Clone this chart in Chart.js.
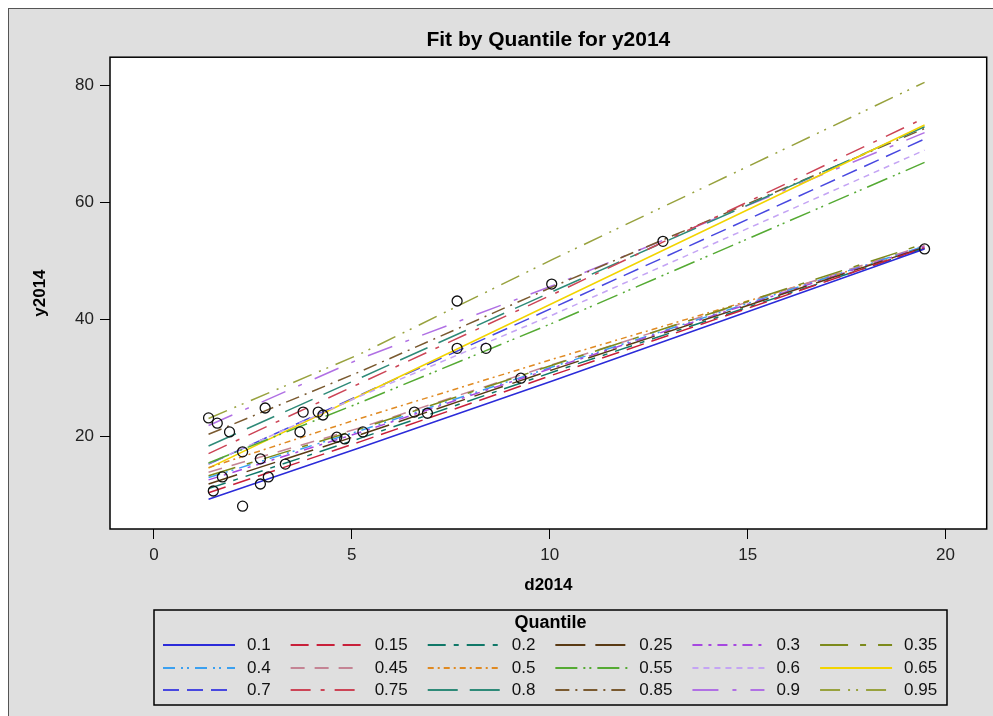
<!DOCTYPE html>
<html>
<head>
<meta charset="utf-8">
<title>Fit by Quantile for y2014</title>
<script src="https://cdn.jsdelivr.net/npm/chart.js@4.4.1/dist/chart.umd.min.js"></script>
<style>
    html, body { margin: 0; padding: 0; background: #fff; }
    #frame {
        position: absolute; left: 8px; top: 8px; width: 985px; height: 708px;
        background: #dfdfdf; border-top: 1px solid #555; border-left: 1px solid #555;
    }
    canvas { display: block; }
</style>
</head>
<body>
<div id="frame"><canvas id="fitChart" width="984" height="707"></canvas></div>
<script>
// Observations
const obsD2014 = [1.38, 1.60, 1.91, 2.24, 2.24, 1.50, 1.73, 2.69, 2.81, 2.69, 2.89, 3.32, 3.77, 4.15,
    4.27, 3.69, 4.62, 4.82, 5.28, 6.58, 6.91, 7.66, 7.66, 8.39, 9.27, 10.05, 12.86, 19.47];
const obsY2014 = [23.1, 22.2, 20.7, 17.3, 8.0, 10.6, 13.0, 16.1, 24.8, 11.8, 13.0, 15.2, 24.1, 24.1,
    23.6, 20.7, 19.8, 19.5, 20.7, 24.1, 23.9, 43.1, 35.0, 35.0, 29.9, 46.0, 53.3, 52.0];

// Fitted quantile curves, evaluated at fitX
const fitX = [1.38, 5.2, 10.1, 19.47];
const fit10 = [9.2, 18.0, 29.5, 52.0];
const fit15 = [10.3, 19.0, 30.5, 52.2];
const fit20 = [11.0, 19.6, 31.0, 52.1];
const fit25 = [11.8, 20.2, 31.4, 52.3];
const fit30 = [12.5, 20.6, 31.7, 52.4];
const fit35 = [13.2, 21.2, 32.2, 52.9];
const fit40 = [12.9, 20.9, 31.9, 52.5];
const fit45 = [13.8, 21.4, 32.3, 52.6];
const fit50 = [14.6, 23.0, 33.2, 52.1];
const fit55 = [15.4, 25.7, 39.4, 66.8];
const fit60 = [15.3, 26.8, 40.8, 68.9];
const fit65 = [14.5, 26.9, 42.8, 73.2];
const fit70 = [15.2, 27.0, 42.0, 70.8];
const fit75 = [17.0, 29.0, 44.3, 74.4];
const fit80 = [18.3, 29.9, 44.8, 72.9];
const fit85 = [20.3, 31.0, 45.6, 72.6];
const fit90 = [21.8, 33.2, 45.8, 71.9];
const fit95 = [23.0, 34.0, 50.3, 80.5];

const quantiles = ["0.1", "0.15", "0.2", "0.25", "0.3", "0.35", "0.4", "0.45", "0.5",
    "0.55", "0.6", "0.65", "0.7", "0.75", "0.8", "0.85", "0.9", "0.95"];
const fits = [fit10, fit15, fit20, fit25, fit30, fit35, fit40, fit45, fit50,
    fit55, fit60, fit65, fit70, fit75, fit80, fit85, fit90, fit95];

const xTicks = [0, 5, 10, 15, 20];
const yTicks = [20, 40, 60, 80];

// line styles per quantile
const lineColors = ["#2b2bd9", "#c8203a", "#107868", "#5a3a14", "#a648e0", "#7c8a1c",
    "#3aa0f0", "#c48494", "#e08a22", "#55aa33", "#c4a4f4", "#f2d400",
    "#4848e0", "#cc4456", "#2e8a78", "#7a5a30", "#b070e4", "#98a23e"];
const lineDashes = [[], [18, 8], [18, 8, 5, 8], [30, 10], [10, 6, 3, 6], [28, 12, 6, 12],
    [12, 6, 2, 4, 2, 6], [14, 10], [6, 4, 2, 4], [22, 6, 2, 4, 2, 6], [6, 5], [],
    [16, 8], [20, 10, 4, 10], [30, 12], [14, 6, 2, 6], [26, 14, 4, 14], [20, 8, 2, 6, 2, 8]];

const FONT = '"Liberation Sans", Arial, sans-serif';

// white plot area with a black frame
const plotFrame = {
    id: "plotFrame",
    beforeDraw(chart) {
        const { ctx, chartArea: a } = chart;
        ctx.save();
        ctx.fillStyle = "#fff";
        ctx.fillRect(a.left, a.top, a.right - a.left, a.bottom - a.top);
        ctx.restore();
    },
    afterDraw(chart) {
        const { ctx, chartArea: a } = chart;
        ctx.save();
        ctx.strokeStyle = "#000";
        ctx.lineWidth = 1.5;
        ctx.strokeRect(a.left, a.top, a.right - a.left, a.bottom - a.top);
        ctx.restore();
    }
};

// boxed legend laid out as a 6 x 3 grid under the axis
const quantileLegend = {
    id: "quantileLegend",
    afterDraw(chart) {
        const ctx = chart.ctx;
        const box = { left: 145, top: 601, right: 938, bottom: 696 };
        const rowY = [636, 659, 681];
        const cols = 6;
        ctx.save();
        ctx.strokeStyle = "#000";
        ctx.lineWidth = 1.5;
        ctx.strokeRect(box.left, box.top, box.right - box.left, box.bottom - box.top);

        ctx.fillStyle = "#000";
        ctx.textBaseline = "middle";
        ctx.textAlign = "center";
        ctx.font = "bold 18px " + FONT;
        ctx.fillText("Quantile", (box.left + box.right) / 2, 614);

        ctx.font = "17px " + FONT;
        ctx.textAlign = "left";
        let x = box.left + 9;
        for (let c = 0; c < cols; c++) {
            let widest = 0;
            for (let r = 0; r < rowY.length; r++) {
                widest = Math.max(widest, ctx.measureText(quantiles[r * cols + c]).width);
            }
            for (let r = 0; r < rowY.length; r++) {
                const i = r * cols + c;
                const ds = chart.data.datasets[i + 1];
                ctx.strokeStyle = ds.borderColor;
                ctx.lineWidth = 2;
                ctx.setLineDash(ds.borderDash);
                ctx.beginPath();
                ctx.moveTo(x, rowY[r]);
                ctx.lineTo(x + 72, rowY[r]);
                ctx.stroke();
                ctx.setLineDash([]);
                ctx.fillStyle = "#111";
                ctx.fillText(quantiles[i], x + 84, rowY[r]);
            }
            x += 84 + widest + 20;
        }
        ctx.restore();
    }
};

const datasets = [{
    label: "y2014",
    data: obsD2014.map((d, i) => ({ x: d, y: obsY2014[i] })),
    pointStyle: "circle",
    pointRadius: 5,
    pointBorderWidth: 1.3,
    borderColor: "#111",
    backgroundColor: "rgba(0,0,0,0)",
    order: 0
}];

fits.forEach((vals, i) => {
    datasets.push({
        label: quantiles[i],
        data: fitX.map((x, k) => ({ x, y: vals[k] })),
        showLine: true,
        pointRadius: 0,
        borderColor: lineColors[i],
        borderDash: lineDashes[i],
        borderWidth: 1.5,
        tension: 0,
        order: 1
    });
});

new Chart(document.getElementById("fitChart"), {
    type: "scatter",
    data: { datasets },
    plugins: [plotFrame, quantileLegend],
    options: {
        responsive: false,
        animation: false,
        layout: { padding: { left: 0, right: 4.5, top: 0, bottom: 112 } },
        plugins: {
            legend: { display: false },
            tooltip: { enabled: false },
            title: {
                display: true,
                text: "Fit by Quantile for y2014",
                fullSize: false,
                color: "#000",
                font: { family: FONT, size: 21, weight: "bold" },
                padding: { top: 19, bottom: 4 }
            }
        },
        scales: {
            x: {
                type: "linear",
                min: -1.11,
                max: 21.04,
                afterBuildTicks: s => { s.ticks = xTicks.map(v => ({ value: v })); },
                afterFit: s => { s.height = 75; },
                grid: { drawOnChartArea: false, drawTicks: true, tickLength: 10, color: "#000" },
                border: { display: false },
                ticks: { color: "#222", padding: 6, maxRotation: 0, font: { family: FONT, size: 17 } },
                title: {
                    display: true, text: "d2014", color: "#000",
                    font: { family: FONT, size: 17, weight: "bold" },
                    padding: { top: 0, bottom: 8 }
                }
            },
            y: {
                type: "linear",
                min: 4.1,
                max: 84.8,
                afterBuildTicks: s => { s.ticks = yTicks.map(v => ({ value: v })); },
                afterFit: s => { s.width = 101; },
                grid: { drawOnChartArea: false, drawTicks: true, tickLength: 10, color: "#000" },
                border: { display: false },
                ticks: { color: "#222", padding: 6, font: { family: FONT, size: 17 } },
                title: {
                    display: true, text: "y2014", color: "#000",
                    font: { family: FONT, size: 17, weight: "bold" },
                    padding: { top: 21, bottom: 0 }
                }
            }
        }
    }
});
</script>
</body>
</html>
